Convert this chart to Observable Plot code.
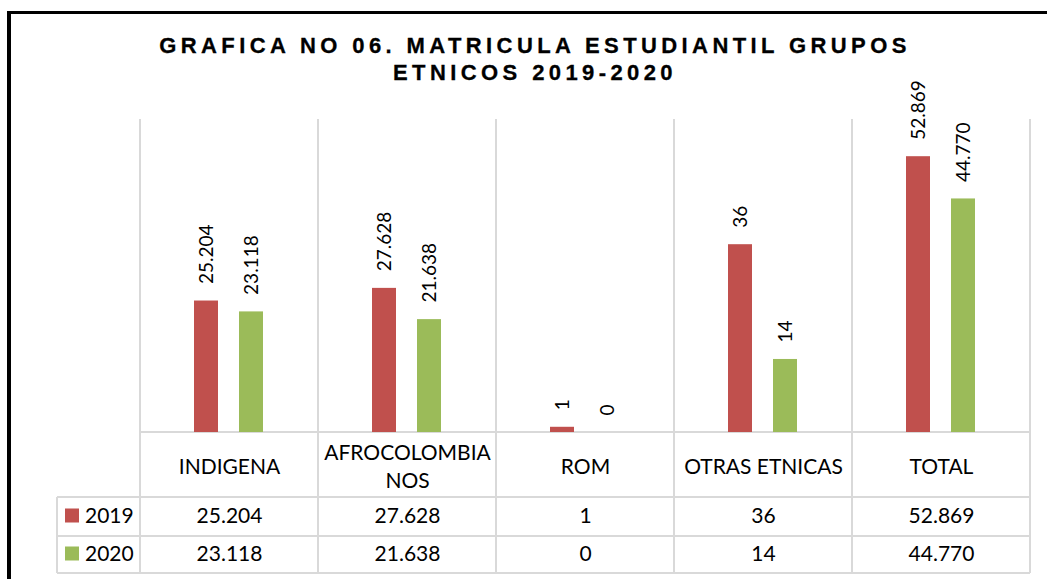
<!DOCTYPE html>
<html><head><meta charset="utf-8">
<script src="https://cdn.jsdelivr.net/npm/d3@7"></script>
<script src="https://cdn.jsdelivr.net/npm/@observablehq/plot@0.6"></script>
<style>
html,body{margin:0;padding:0;background:#fff;}
#wrap{position:relative;width:1047px;height:579px;overflow:hidden;}
#chart{position:absolute;left:0;top:0;}
#border{position:absolute;left:7px;top:11px;right:0;bottom:0;border-top:3px solid #000;border-left:4px solid #000;pointer-events:none;}
#title{position:absolute;left:135px;width:800px;top:32px;text-align:center;font:bold 22px "Liberation Sans",Arial,sans-serif;letter-spacing:4.4px;line-height:27px;white-space:nowrap;color:#000;-webkit-text-stroke:0.3px #000;}
</style></head><body>
<div id="wrap"><div id="chart"></div><div id="border"></div><div id="title">GRAFICA NO 06. MATRICULA ESTUDIANTIL GRUPOS<br>ETNICOS 2019-2020</div></div>
<script>
const categories = ["INDIGENA", "AFROCOLOMBIANOS", "ROM", "OTRAS ETNICAS", "TOTAL"];
const categoryLabels = ["INDIGENA", "AFROCOLOMBIA\nNOS", "ROM", "OTRAS ETNICAS", "TOTAL"];
const years = ["2019", "2020"];
const values2019 = [25.204, 27.628, 1, 36, 52.869];
const values2020 = [23.118, 21.638, 0, 14, 44.770];
const labels2019 = ["25.204", "27.628", "1", "36", "52.869"];
const labels2020 = ["23.118", "21.638", "0", "14", "44.770"];
const colors = ["#C0504D", "#9BBB59"];

const rows = categories.flatMap((c, i) => [
  {cat: c, year: years[0], value: values2019[i], label: labels2019[i]},
  {cat: c, year: years[1], value: values2020[i], label: labels2020[i]}
]);
const tableRows = categories.map((c, i) => ({cat: c, name: categoryLabels[i], v19: labels2019[i], v20: labels2020[i]}));

const FONT = "Lato, 'Open Sans', sans-serif";
const chart = Plot.plot({
  width: 1047, height: 579,
  marginTop: 119, marginBottom: 147, marginLeft: 138, marginRight: 16,
  style: {fontFamily: FONT, background: "transparent", color: "#000"},
  fx: {domain: categories, padding: 0, axis: null},
  x: {domain: years, paddingInner: 0.463, paddingOuter: 1.173, axis: null},
  y: {domain: [0, 60], axis: null},
  color: {domain: years, range: colors},
  marks: [
    Plot.barY(rows, {fx: "cat", x: "year", y: "value", fill: "year"}),
    Plot.text(rows, {fx: "cat", x: "year", y: "value", text: "label", rotate: -90, textAnchor: "start", dy: -17, fontSize: 19, fill: "#000"}),
    Plot.text(tableRows, {fx: "cat", text: "name", frameAnchor: "bottom", lineAnchor: "middle", dy: 32.5, fontSize: 21, lineHeight: 1.33, fill: "#000"}),
    Plot.text(tableRows, {fx: "cat", text: "v19", frameAnchor: "bottom", lineAnchor: "middle", dy: 83.5, fontSize: 21, fill: "#000"}),
    Plot.text(tableRows, {fx: "cat", text: "v20", frameAnchor: "bottom", lineAnchor: "middle", dy: 122, fontSize: 21, fill: "#000"})
  ]
});
document.getElementById("chart").appendChild(chart);

// Grid and data-table lines from the chart's own scales
const fx = chart.scale("fx"), ys = chart.scale("y");
const bw = fx.bandwidth;
const xLeft = fx.apply(categories[0]);
const xRight = fx.apply(categories[categories.length - 1]) + bw;
const yBase = ys.apply(0), yTop = ys.apply(60);
const rowH = [65, 39, 37];
const yRow1 = yBase + rowH[0], yRow2 = yRow1 + rowH[1], yRow3 = yRow2 + rowH[2];
const xLegend = xLeft - 83;
const svg = d3.select(chart);
const g = svg.insert("g", "g").attr("stroke", "#d9d9d9").attr("stroke-width", 2).attr("fill", "none");
const edges = categories.map(c => fx.apply(c)).concat([xRight]);
edges.forEach(x => g.append("line").attr("x1", x).attr("x2", x).attr("y1", yTop).attr("y2", yRow3));
g.append("line").attr("x1", xLeft).attr("x2", xRight).attr("y1", yBase).attr("y2", yBase);
[yRow1, yRow2, yRow3].forEach(y => g.append("line").attr("x1", xLegend).attr("x2", xRight).attr("y1", y).attr("y2", y));
g.append("line").attr("x1", xLegend).attr("x2", xLegend).attr("y1", yRow1).attr("y2", yRow3);

// legend keys in the data table
const leg = svg.append("g").attr("font-family", FONT).attr("font-size", 21).attr("text-anchor", "start");
[[yRow1, yRow2], [yRow2, yRow3]].forEach(([a, b], i) => {
  const cy = (a + b) / 2 - 1;
  leg.append("rect").attr("x", xLegend + 8).attr("y", cy - 7).attr("width", 14).attr("height", 14).attr("fill", colors[i]);
  leg.append("text").attr("x", xLegend + 28).attr("y", cy).attr("dy", "0.35em").attr("fill", "#000").text(years[i]);
});
</script>
</body></html>
